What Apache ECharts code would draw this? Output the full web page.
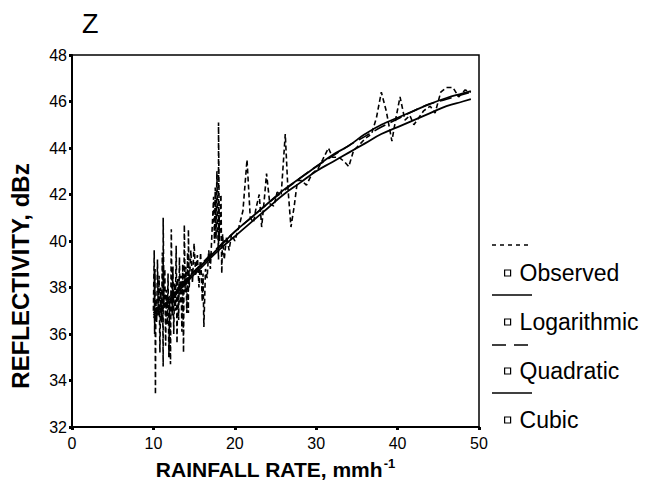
<!DOCTYPE html>
<html>
<head>
<meta charset="utf-8">
<script src="https://cdn.jsdelivr.net/npm/echarts@6/dist/echarts.min.js"></script>
<style>
html,body{margin:0;padding:0;background:#fff;}
#c{width:660px;height:482px;}
</style>
</head>
<body>
<div id="c"></div>
<script>
// ---- data ----
var xTicks = [0, 10, 20, 30, 40, 50];
var yTicks = [32, 34, 36, 38, 40, 42, 44, 46, 48];
var seriesNames = ['Observed', 'Logarithmic', 'Quadratic', 'Cubic'];

var obsRate = [10.0,10.1,10.15,10.2,10.25,10.3,10.4,10.5,10.6,10.7,10.8,10.9,11.0,11.1,11.2,11.2,11.3,11.4,11.5,11.6,11.7,11.8,11.9,12.0,12.1,12.2,12.3,12.4,12.5,12.6,12.7,12.8,12.9,13.0,13.1,13.2,13.3,13.4,13.5,13.6,13.7,13.8,13.9,14.0,14.1,14.2,14.3,14.3,14.4,14.6,14.8,15.0,15.2,15.4,15.6,15.8,16.0,16.1,16.2,16.4,16.6,16.8,17.0,17.2,17.4,17.5,17.6,17.7,17.8,17.9,18.0,18.0,18.1,18.3,18.4,18.5,18.7,19.0,19.3,19.6,20.0,20.5,21.0,21.5,21.9,22.3,22.6,23.0,23.3,23.6,23.9,24.3,24.8,25.2,25.7,26.2,26.5,26.9,27.3,27.7,28.2,28.8,29.5,30.2,30.8,31.5,32.0,32.8,33.5,34.0,34.6,35.2,36.0,36.8,37.4,38.0,38.6,39.3,39.8,40.3,40.9,41.5,42.0,42.6,43.2,44.0,44.6,45.3,46.0,46.8,47.5,48.3,49.0];
var obsZ = [37.0,39.6,36.0,38.8,33.4,37.5,36.5,39.2,36.8,38.5,35.2,38.0,36.5,39.5,34.6,41.0,37.2,38.8,35.5,37.9,36.4,38.6,35.0,37.4,34.7,40.5,36.8,38.9,36.0,38.2,37.0,39.8,35.6,38.4,36.6,39.3,37.3,38.5,36.1,39.0,35.2,40.7,37.8,38.9,36.9,39.5,36.9,40.5,38.0,39.6,38.2,39.9,38.5,39.4,38.0,39.5,37.4,38.6,36.3,38.8,38.4,39.6,38.8,40.4,41.9,39.9,42.3,40.1,43.0,40.6,39.2,45.1,40.0,42.0,38.6,40.3,39.2,40.2,39.6,40.3,40.0,40.6,41.3,43.5,41.0,40.8,41.4,42.0,40.6,41.7,42.9,41.6,41.5,42.1,42.0,44.6,42.4,40.6,41.5,42.6,42.6,42.4,42.9,43.1,43.5,44.0,43.6,43.6,43.4,43.2,43.9,44.1,44.4,44.6,45.3,46.4,45.6,44.3,45.3,46.2,45.2,45.4,45.0,45.3,45.6,45.8,45.5,46.4,46.6,46.6,46.2,46.5,46.4];

var fitRate = [10,12,14,16,18,20,22,24,26,28,30,32,34,36,38,40,42,44,46,48,49];
var logZ   = [36.7,37.4,38.2,38.9,39.6,40.2,40.8,41.4,42.0,42.5,43.0,43.4,43.8,44.2,44.6,44.9,45.2,45.5,45.8,46.0,46.1];
var quadZ  = [36.9,37.6,38.35,39.05,39.75,40.4,41.0,41.6,42.15,42.7,43.2,43.65,44.1,44.5,44.9,45.25,45.6,45.9,46.1,46.3,46.4];
var cubicZ = [36.8,37.5,38.3,39.0,39.7,40.4,41.0,41.6,42.2,42.7,43.2,43.7,44.1,44.6,45.0,45.3,45.6,45.9,46.15,46.35,46.45];

function pairs(xs, ys) { return xs.map(function (x, i) { return [x, ys[i]]; }); }

var FONT = '"Liberation Sans", Arial, Helvetica, sans-serif';
var chart = echarts.init(document.getElementById('c'), null, { renderer: 'svg' });

var legendLineY = [245, 295, 345, 393];
var legendDash = [[4, 4], null, [14, 8], null];

var option = {
  backgroundColor: '#fff',
  animation: false,
  title: {
    text: 'Z', left: 77, top: 5,
    textStyle: { fontFamily: FONT, fontSize: 27, fontWeight: 'normal', color: '#000' }
  },
  grid: {
    left: 72, right: 181, top: 55, bottom: 55, containLabel: false, outerBoundsMode: 'none',
    show: true, borderColor: '#000', borderWidth: 1.5, backgroundColor: 'transparent'
  },
  xAxis: {
    type: 'value', min: xTicks[0], max: xTicks[xTicks.length - 1], interval: 10,
    name: 'RAINFALL RATE, mmh{sup|-1}', nameLocation: 'middle', nameGap: 30,
    nameTextStyle: {
      fontFamily: FONT, fontSize: 21, fontWeight: 'bold', color: '#000',
      rich: { sup: { fontFamily: FONT, fontSize: 13, fontWeight: 'bold', color: '#000', verticalAlign: 'top', padding: [0, 0, 12, 1] } }
    },
    axisLine: { lineStyle: { color: '#000', width: 2 } },
    axisTick: { show: true, length: 3, lineStyle: { color: '#000', width: 3 } },
    axisLabel: { fontFamily: FONT, fontSize: 16, color: '#000', margin: 8 },
    splitLine: { show: false }
  },
  yAxis: {
    type: 'value', min: yTicks[0], max: yTicks[yTicks.length - 1], interval: 2,
    name: 'REFLECTIVITY, dBz', nameLocation: 'middle', nameGap: 40,
    nameTextStyle: { fontFamily: FONT, fontSize: 24, fontWeight: 'bold', color: '#000', padding: [0, 70, 0, 0] },
    axisLine: { lineStyle: { color: '#000', width: 2 } },
    axisTick: { show: true, length: 3, lineStyle: { color: '#000', width: 3 } },
    axisLabel: { fontFamily: FONT, fontSize: 16, color: '#000', margin: 5 },
    splitLine: { show: false }
  },
  legend: {
    orient: 'vertical', left: 499, top: 256,
    data: seriesNames,
    icon: 'rect', itemWidth: 6, itemHeight: 6, itemGap: 25,
    itemStyle: { color: '#fff', borderColor: '#000', borderWidth: 1.2 },
    textStyle: { fontFamily: FONT, fontSize: 23, color: '#000', padding: [0, 0, 0, 4], lineHeight: 24 }
  },
  graphic: legendLineY.map(function (y, i) {
    return {
      type: 'line', shape: { x1: 492, y1: y, x2: 532, y2: y },
      style: { stroke: '#000', lineWidth: 1.6, lineDash: legendDash[i] || null }
    };
  }),
  series: [
    {
      name: seriesNames[0], type: 'line', data: pairs(obsRate, obsZ), showSymbol: false, symbol: 'none',
      lineStyle: { color: '#000', width: 1.6, type: [5, 3] }, itemStyle: { color: '#000' }, z: 2
    },
    {
      name: seriesNames[1], type: 'line', data: pairs(fitRate, logZ), showSymbol: false, symbol: 'none', smooth: true,
      lineStyle: { color: '#000', width: 1.8 }, itemStyle: { color: '#000' }, z: 3
    },
    {
      name: seriesNames[2], type: 'line', data: pairs(fitRate, quadZ), showSymbol: false, symbol: 'none', smooth: true,
      lineStyle: { color: '#000', width: 1.6, type: [12, 6] }, itemStyle: { color: '#000' }, z: 3
    },
    {
      name: seriesNames[3], type: 'line', data: pairs(fitRate, cubicZ), showSymbol: false, symbol: 'none', smooth: true,
      lineStyle: { color: '#000', width: 1.8 }, itemStyle: { color: '#000' }, z: 3
    }
  ]
};
chart.setOption(option);
</script>
</body>
</html>
